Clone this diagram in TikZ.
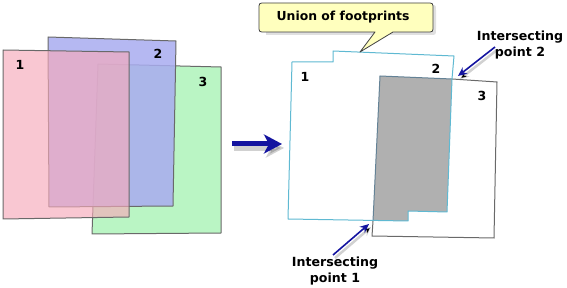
\documentclass[tikz,border=0pt]{standalone}
\usepackage{fontspec}
\setmainfont{DejaVu Sans}
\usetikzlibrary{arrows.meta}
\definecolor{pinkf}{RGB}{247,170,186}
\definecolor{bluef}{RGB}{169,172,240}
\definecolor{greenf}{RGB}{186,245,196}
\definecolor{edgegray}{RGB}{105,105,105}
\definecolor{unioncyan}{RGB}{95,185,210}
\definecolor{fillgray}{RGB}{176,176,176}
\definecolor{steel}{RGB}{100,130,150}
\definecolor{navy}{RGB}{20,20,160}
\definecolor{calloutfill}{RGB}{255,255,190}
\tikzset{
  sheet/.style={draw=edgegray, line width=1pt, line join=round},
  num/.style={font=\bfseries\fontsize{12.5}{14}\selectfont, text=black, inner sep=0pt},
  lbl/.style={font=\bfseries\fontsize{12.6}{16}\selectfont, align=center, inner sep=0pt},
  pointer/.style={draw=navy, line width=1.6pt, -{Stealth[length=9pt,width=8pt]}},
  pshadow/.style={draw=black, draw opacity=0.18, line width=2.5pt, -{Stealth[length=9pt,width=8pt]}},
}
\begin{document}
\begin{tikzpicture}[x=1pt,y=-1pt]
\useasboundingbox (0,0) rectangle (567,288);
\fill[white] (0,0) rectangle (567,288);
% ---------- left panel ----------
\path[sheet, fill=greenf] (98,64) -- (221,67) -- (221,233) -- (92,234) -- cycle;
\path[sheet, fill=bluef, fill opacity=0.85] (48,37) -- (176,41) -- (173,206) -- (49,207) -- cycle;
\path[sheet, fill=pinkf, fill opacity=0.65] (3,50) -- (129,52) -- (129,217) -- (3,219) -- cycle;
\node[num] (l1) at (20,65) {1};
\node[num] (l2) at (158,54) {2};
\node[num] (l3) at (203,82) {3};
% ---------- big arrow ----------
\coordinate (ba) at (232,144);
\coordinate (bb) at (282,144);
\coordinate (bas) at (234,148);
\coordinate (bbs) at (284,148);
\draw[black, opacity=0.18, line width=6pt, -{Stealth[length=18pt,width=19pt,inset=5pt]}] (bas) -- (bbs);
\draw[navy, line width=5pt, -{Stealth[length=18pt,width=19pt,inset=5pt]}] (ba) -- (bb);
% ---------- right panel ----------
\fill[fillgray] (380,76) -- (452,79) -- (447,212) -- (408,211) -- (408,221) -- (373,221) -- cycle;
\draw[edgegray, line width=1pt] (452,79) -- (497,82) -- (494,238) -- (372,236) -- (373,221);
\draw[steel, line width=1pt] (373,221) -- (380,76) -- (452,79);
\draw[unioncyan, line width=1pt, line join=round] (292,62) -- (333,62) -- (333,51) -- (454,56) -- (452,79) -- (447,212) -- (408,211) -- (408,221) -- (288,219) -- cycle;
\node[num] (r1) at (305,77) {1};
\node[num] (r2) at (436,69) {2};
\node[num] (r3) at (482,96) {3};
% ---------- callout ----------
\fill[black, opacity=0.12] (266,5) -- (430,5) .. controls (436,5) .. (436,10) -- (436,29) .. controls (436,35) .. (430,35) -- (266,35) -- cycle;
\draw[draw=black!75, line width=0.8pt, fill=calloutfill, line join=round]
  (265,3) -- (427,3) .. controls (433,3) .. (433,9) -- (433,26) .. controls (433,32) .. (427,32)
  -- (393,32) -- (360,52) -- (375,32) -- (265,32) .. controls (259,32) .. (259,26)
  -- (259,9) .. controls (259,3) .. (265,3) -- cycle;
\node[lbl, font=\bfseries\fontsize{12.4}{14}\selectfont] (callout) at (343,17.5) {Union of footprints};
% ---------- intersecting labels ----------
\node[lbl] (ip2) at (520,45) {Intersecting\\point 2};
\node[lbl] (ip1) at (335,271) {Intersecting\\point 1};
\coordinate (p2s) at (495,47);
\coordinate (p2t) at (458,76);
\coordinate (p2ss) at (497,50);
\coordinate (p2ts) at (460,79);
\coordinate (p1s) at (333,255);
\coordinate (p1t) at (369,224);
\coordinate (p1ss) at (335,258);
\coordinate (p1ts) at (371,227);
\draw[pshadow] (p2ss) -- (p2ts);
\draw[pshadow] (p1ss) -- (p1ts);
\draw[pointer] (p2s) -- (p2t);
\draw[pointer] (p1s) -- (p1t);
\end{tikzpicture}
\end{document}
